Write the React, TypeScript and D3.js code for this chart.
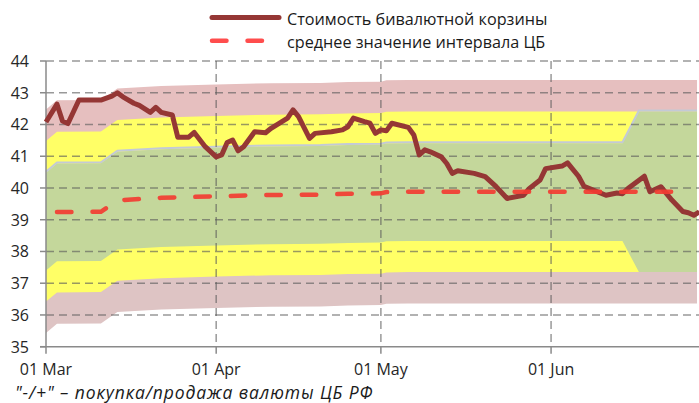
import * as d3 from "d3";
import { useEffect, useRef } from "react";

// basket value (RUB)
const basketDates = [
  "2014-03-01", "2014-03-03", "2014-03-04", "2014-03-05", "2014-03-07", "2014-03-11", "2014-03-13",
  "2014-03-14", "2014-03-15", "2014-03-17", "2014-03-18", "2014-03-20", "2014-03-21", "2014-03-22",
  "2014-03-24", "2014-03-25", "2014-03-27", "2014-03-28", "2014-03-30",
  "2014-04-01", "2014-04-02", "2014-04-03", "2014-04-04", "2014-04-05", "2014-04-06", "2014-04-08",
  "2014-04-10", "2014-04-11", "2014-04-14", "2014-04-15", "2014-04-16", "2014-04-18", "2014-04-19",
  "2014-04-22", "2014-04-24", "2014-04-25", "2014-04-26", "2014-04-28", "2014-04-29", "2014-04-30",
  "2014-05-01", "2014-05-02", "2014-05-03", "2014-05-06", "2014-05-07", "2014-05-08", "2014-05-09",
  "2014-05-10", "2014-05-12", "2014-05-13", "2014-05-14", "2014-05-15", "2014-05-18", "2014-05-20",
  "2014-05-22", "2014-05-24", "2014-05-27", "2014-05-28", "2014-05-30", "2014-05-31",
  "2014-06-03", "2014-06-04", "2014-06-06", "2014-06-07", "2014-06-11", "2014-06-13", "2014-06-14",
  "2014-06-15", "2014-06-18", "2014-06-19", "2014-06-21", "2014-06-23", "2014-06-25", "2014-06-26",
  "2014-06-27", "2014-06-28",
];
const basketValues = [
  42.08, 42.64, 42.11, 42.03, 42.77, 42.77, 42.89, 43.0, 42.87, 42.67, 42.6, 42.38, 42.54, 42.38,
  42.3, 41.6, 41.6, 41.75, 41.3,
  40.98, 41.04, 41.43, 41.51, 41.17, 41.3, 41.77, 41.74, 41.88, 42.2, 42.46, 42.25, 41.56, 41.72,
  41.77, 41.83, 41.93, 42.2, 42.09, 42.04, 41.72,
  41.83, 41.8, 42.04, 41.91, 41.67, 41.04, 41.2, 41.14, 40.98, 40.77, 40.46, 40.54, 40.46, 40.36,
  40.04, 39.67, 39.77, 39.98, 40.25, 40.61,
  40.69, 40.79, 40.37, 40.05, 39.77, 39.84, 39.82, 39.98, 40.37, 39.88, 40.04, 39.62, 39.26, 39.22,
  39.14, 39.25,
];

// middle of the CB interval
const meanDates = [
  "2014-03-03", "2014-03-11", "2014-03-14", "2014-03-22", "2014-04-01", "2014-04-11",
  "2014-04-20", "2014-04-25", "2014-05-01", "2014-05-02", "2014-05-06", "2014-06-24T12:00",
];
const meanValues = [39.24, 39.25, 39.61, 39.69, 39.74, 39.78, 39.79, 39.82, 39.83, 39.87, 39.88, 39.88];

// zones of the corridor
const bandDates = [
  "2014-03-01", "2014-03-03", "2014-03-11", "2014-03-14", "2014-03-22", "2014-04-01", "2014-04-11",
  "2014-04-20", "2014-04-25", "2014-05-01", "2014-05-02", "2014-05-06", "2014-06-14", "2014-06-17",
  "2014-06-27T14:00",
];
const bandMid = [38.95, 39.24, 39.25, 39.61, 39.69, 39.74, 39.78, 39.79, 39.82, 39.83, 39.87, 39.88, 39.88, 39.88, 39.88];
const pinkTop = [42.47, 42.76, 42.77, 43.13, 43.21, 43.26, 43.3, 43.31, 43.34, 43.35, 43.39, 43.4, 43.4, 43.4, 43.4];
const yellowTop = [41.48, 41.77, 41.78, 42.14, 42.22, 42.27, 42.31, 42.32, 42.35, 42.36, 42.4, 42.41, 42.41, 42.41, 42.41];
const greenTop = [40.48, 40.77, 40.78, 41.14, 41.22, 41.27, 41.31, 41.32, 41.35, 41.36, 41.4, 41.41, 41.41, 42.41, 42.41];
const greenBottom = [37.4, 37.69, 37.7, 38.06, 38.14, 38.19, 38.23, 38.24, 38.27, 38.28, 38.32, 38.33, 38.33, 37.35, 37.35];
const yellowBottom = [36.42, 36.71, 36.72, 37.08, 37.16, 37.21, 37.25, 37.26, 37.29, 37.3, 37.34, 37.35, 37.35, 37.35, 37.35];
const pinkBottom = [35.43, 35.72, 35.73, 36.09, 36.17, 36.22, 36.26, 36.27, 36.3, 36.31, 36.35, 36.36, 36.36, 36.36, 36.36];

const yTicks = [35, 36, 37, 38, 39, 40, 41, 42, 43, 44];
const xTickDates = ["2014-03-01", "2014-04-01", "2014-05-01", "2014-06-01"];
const xTickLabels = ["01 Mar", "01 Apr", "01 May", "01 Jun"];

const legendLabels = ["Стоимость бивалютной корзины", "среднее значение интервала ЦБ"];
const footnote = "\"-/+\" – покупка/продажа валюты ЦБ РФ";

const FONT = "'Open Sans', sans-serif";

function parseDate(s: string) {
  return new Date(s.length > 10 ? s : s + "T00:00");
}

export default function App() {
  const svgRef = useRef<SVGSVGElement>(null);

  useEffect(() => {
    const width = 699;
    const height = 403;

    const svg = d3.select(svgRef.current).attr("width", width).attr("height", height);
    svg.selectAll("*").remove();

    const x = d3.scaleTime()
      .domain([parseDate("2014-03-01"), parseDate("2014-06-28")])
      .range([46, 699.3]);
    const y = d3.scaleLinear().domain([35, 44]).range([346.7, 61]);

    const bands = bandDates.map((d, i) => ({
      date: parseDate(d),
      mid: bandMid[i],
      pinkTop: pinkTop[i],
      yellowTop: yellowTop[i],
      greenTop: greenTop[i],
      greenBottom: greenBottom[i],
      yellowBottom: yellowBottom[i],
      pinkBottom: pinkBottom[i],
    }));

    const area = (lo: (d: any) => number, hi: (d: any) => number) =>
      d3.area<any>().x(d => x(d.date)).y0(d => y(lo(d))).y1(d => y(hi(d)));

    // zones
    svg.append("path").datum(bands).attr("fill", "#e6bfbf")
      .attr("d", area(d => d.mid, d => d.pinkTop));
    svg.append("path").datum(bands).attr("fill", "#dec4c4")
      .attr("d", area(d => d.pinkBottom, d => d.mid));
    svg.append("path").datum(bands).attr("fill", "#ffff66")
      .attr("d", area(d => d.yellowBottom, d => d.yellowTop));
    svg.append("path").datum(bands).attr("fill", "#c4d79b")
      .attr("d", area(d => d.greenBottom, d => d.greenTop));
    svg.append("path").datum(bands)
      .attr("fill", "none")
      .attr("stroke", "#c3cad6")
      .attr("stroke-width", 2)
      .attr("d", d3.line<any>().x(d => x(d.date)).y(d => y(d.greenTop) - 1));

    // grid
    const grid = svg.append("g")
      .attr("stroke", "#5a5a5a")
      .attr("stroke-opacity", 0.62)
      .attr("stroke-width", 1.5)
      .attr("stroke-dasharray", "8,5");
    grid.selectAll("line.h")
      .data(yTicks.filter(t => t > 35))
      .join("line")
      .attr("x1", 46).attr("x2", width)
      .attr("y1", d => y(d)).attr("y2", d => y(d));
    grid.selectAll("line.v")
      .data(xTickDates.slice(1))
      .join("line")
      .attr("x1", d => x(parseDate(d))).attr("x2", d => x(parseDate(d)))
      .attr("y1", y(44)).attr("y2", y(35));

    // axes
    const axis = svg.append("g").attr("stroke", "#8a8a8a").attr("stroke-width", 1.5);
    axis.append("line").attr("x1", 46).attr("x2", 46).attr("y1", y(44)).attr("y2", y(35));
    axis.append("line").attr("x1", 40).attr("x2", width).attr("y1", y(35)).attr("y2", y(35));
    axis.selectAll("line.yt").data(yTicks).join("line")
      .attr("x1", 40).attr("x2", 46).attr("y1", d => y(d)).attr("y2", d => y(d));
    axis.selectAll("line.xt").data(xTickDates).join("line")
      .attr("x1", d => x(parseDate(d))).attr("x2", d => x(parseDate(d)))
      .attr("y1", y(35)).attr("y2", y(35) + 7);

    svg.append("g")
      .selectAll("text")
      .data(yTicks)
      .join("text")
      .attr("x", 29)
      .attr("y", d => y(d) + 6)
      .attr("text-anchor", "end")
      .attr("font-family", FONT)
      .attr("font-size", 16)
      .attr("fill", "#262626")
      .text(d => d);

    svg.append("g")
      .selectAll("text")
      .data(xTickDates)
      .join("text")
      .attr("x", d => x(parseDate(d)))
      .attr("y", 375)
      .attr("text-anchor", "middle")
      .attr("font-family", FONT)
      .attr("font-size", 16)
      .attr("fill", "#262626")
      .text((d, i) => xTickLabels[i]);

    // basket line
    const basket = basketDates.map((d, i) => ({ date: parseDate(d), value: basketValues[i] }));
    svg.append("path")
      .datum(basket)
      .attr("fill", "none")
      .attr("stroke", "#953735")
      .attr("stroke-width", 5)
      .attr("stroke-linejoin", "round")
      .attr("d", d3.line<any>().x(d => x(d.date)).y(d => y(d.value)));

    // mean line
    const mean = meanDates.map((d, i) => ({ date: parseDate(d), value: meanValues[i] }));
    svg.append("path")
      .datum(mean)
      .attr("fill", "none")
      .attr("stroke", "#f23c32")
      .attr("stroke-opacity", 0.92)
      .attr("stroke-width", 4.5)
      .attr("stroke-linecap", "round")
      .attr("stroke-dasharray", "14.5,21")
      .attr("d", d3.line<any>().x(d => x(d.date)).y(d => y(d.value)));

    // legend
    svg.append("line")
      .attr("x1", 212).attr("x2", 279).attr("y1", 17.5).attr("y2", 17.5)
      .attr("stroke", "#953735").attr("stroke-width", 5).attr("stroke-linecap", "round");
    svg.append("line")
      .attr("x1", 212).attr("x2", 262.5).attr("y1", 40.7).attr("y2", 40.7)
      .attr("stroke", "#ff4d4d").attr("stroke-width", 4.5).attr("stroke-linecap", "round")
      .attr("stroke-dasharray", "14.5,21");
    svg.append("g")
      .selectAll("text")
      .data(legendLabels)
      .join("text")
      .attr("x", 287)
      .attr("y", (d, i) => 25 + i * 22.5)
      .attr("font-family", FONT)
      .attr("font-size", 16.2)
      .attr("fill", "#1a1a1a")
      .text(d => d);

    svg.append("text")
      .attr("x", 15)
      .attr("y", 399)
      .attr("font-family", FONT)
      .attr("font-size", 17.5)
      .attr("letter-spacing", 0.9)
      .attr("font-style", "italic")
      .attr("fill", "#1a1a1a")
      .text(footnote);
  }, []);

  return (
    <svg
      ref={svgRef}
      style={{ position: "absolute", left: 0, top: 0, display: "block", background: "#fff" }}
    ></svg>
  );
}
